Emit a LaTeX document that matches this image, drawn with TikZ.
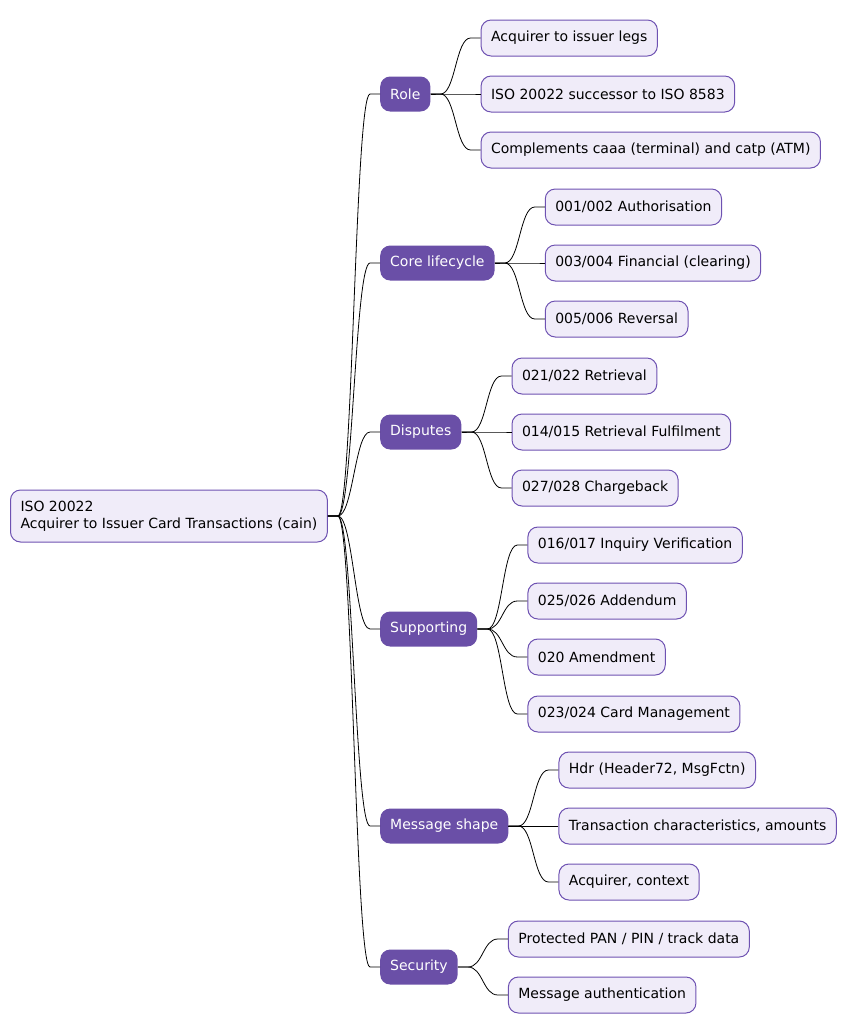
\documentclass[tikz,border=0pt]{standalone}
\usepackage{fontspec}
\setmainfont{DejaVu Sans}
\usetikzlibrary{positioning,calc}
\definecolor{mmPURPLE}{HTML}{6A4FA7}
\definecolor{mmBORDER}{HTML}{6E52B2}
\definecolor{mmLEAF}{HTML}{F0ECF9}
\tikzset{
  rootbox/.style={draw=mmBORDER, fill=mmLEAF, line width=1pt, rounded corners=10pt, align=left, inner xsep=10pt, minimum height=52pt},
  branchbox/.style={fill=mmPURPLE, text=white, rounded corners=10pt, inner xsep=10pt, minimum height=35pt, anchor=west},
  leafbox/.style={draw=mmBORDER, fill=mmLEAF, line width=1pt, rounded corners=10pt, inner xsep=10pt, minimum height=36pt},
  link/.style={black, line width=0.8pt}
}
\begin{document}
\begin{tikzpicture}[x=1pt, y=-1pt, node distance=50pt, font=\fontsize{14pt}{17pt}\selectfont]
  \useasboundingbox (0,0) rectangle (848,1034);
  % Root
  \node[rootbox, anchor=west] (root) at (10,516) {ISO 20022\\Acquirer to Issuer Card Transactions (cain)};

  % Branches
  \node[branchbox] (role) at (380,94) {Role};
  \node[branchbox] (core) at (380,263) {Core lifecycle};
  \node[branchbox] (disputes) at (380,432) {Disputes};
  \node[branchbox] (supporting) at (380,629) {Supporting};
  \node[branchbox] (shape) at (380,826) {Message shape};
  \node[branchbox] (security) at (380,967) {Security};

  % Leaves
  \node[leafbox, right=of role, yshift=56pt] (legs) {Acquirer to issuer legs};
  \node[leafbox, right=of role] (successor) {ISO 20022 successor to ISO 8583};
  \node[leafbox, right=of role, yshift=-56pt] (complements) {Complements caaa (terminal) and catp (ATM)};

  \node[leafbox, right=of core, yshift=56pt] (auth) {001/002 Authorisation};
  \node[leafbox, right=of core] (financial) {003/004 Financial (clearing)};
  \node[leafbox, right=of core, yshift=-56pt] (reversal) {005/006 Reversal};

  \node[leafbox, right=of disputes, yshift=56pt] (retrieval) {021/022 Retrieval};
  \node[leafbox, right=of disputes] (fulfilment) {014/015 Retrieval Fulfilment};
  \node[leafbox, right=of disputes, yshift=-56pt] (chargeback) {027/028 Chargeback};

  \node[leafbox, right=of supporting, yshift=84pt] (inquiry) {016/017 Inquiry Verification};
  \node[leafbox, right=of supporting, yshift=28pt] (addendum) {025/026 Addendum};
  \node[leafbox, right=of supporting, yshift=-28pt] (amendment) {020 Amendment};
  \node[leafbox, right=of supporting, yshift=-85pt] (cardmgmt) {023/024 Card Management};

  \node[leafbox, right=of shape, yshift=56pt] (hdr) {Hdr (Header72, MsgFctn)};
  \node[leafbox, right=of shape] (txchar) {Transaction characteristics, amounts};
  \node[leafbox, right=of shape, yshift=-56pt] (context) {Acquirer, context};

  \node[leafbox, right=of security, yshift=28pt] (protected) {Protected PAN / PIN / track data};
  \node[leafbox, right=of security, yshift=-28pt] (msgauth) {Message authentication};

  % Links
  \foreach \a/\b in {root/role, root/core, root/disputes, root/supporting, root/shape, root/security,
      role/legs, role/successor, role/complements,
      core/auth, core/financial, core/reversal,
      disputes/retrieval, disputes/fulfilment, disputes/chargeback,
      supporting/inquiry, supporting/addendum, supporting/amendment, supporting/cardmgmt,
      shape/hdr, shape/txchar, shape/context,
      security/protected, security/msgauth}
    \draw[link] (\a.east) -- ++(10pt,0) .. controls +(15pt,0) and +(-15pt,0) .. ($(\b.west)+(-10pt,0)$) -- (\b.west);
\end{tikzpicture}
\end{document}
